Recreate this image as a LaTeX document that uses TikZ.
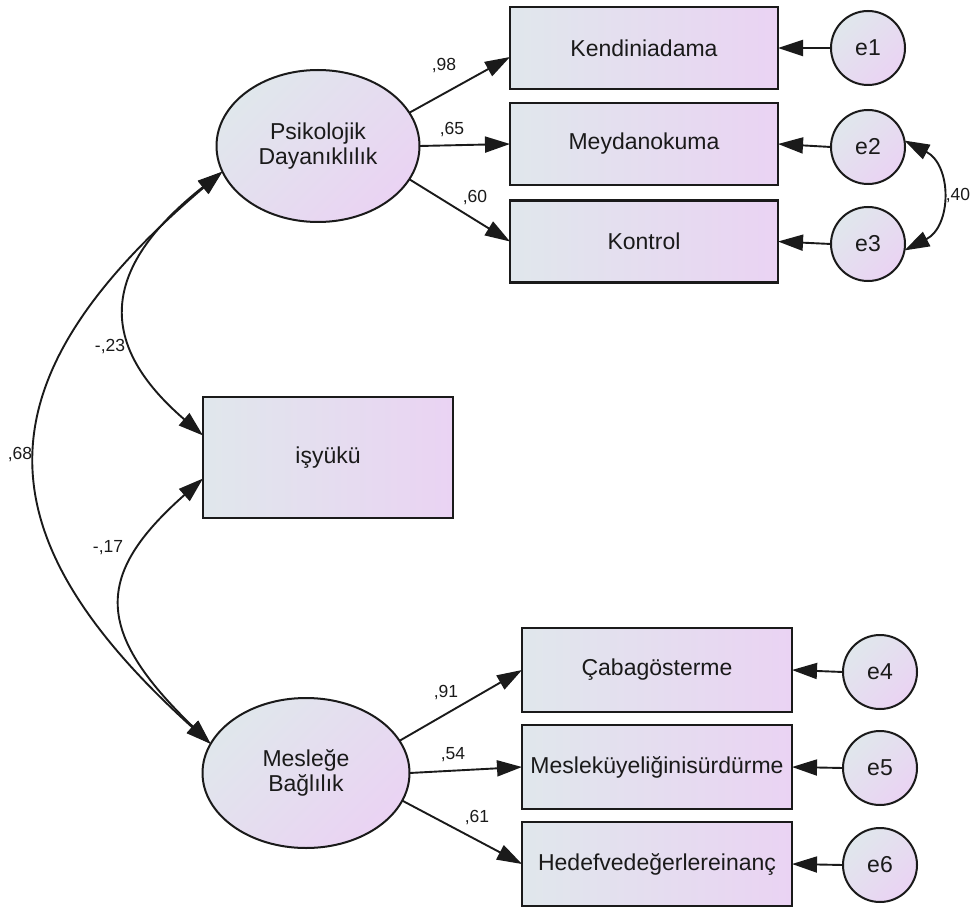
\documentclass[tikz,border=0pt]{standalone}
\usepackage{fontspec}
\setmainfont{Liberation Sans}
\usetikzlibrary{arrows.meta,shapes.geometric}

\definecolor{fillL}{RGB}{224,231,236}
\definecolor{fillR}{RGB}{234,211,243}
\definecolor{ink}{RGB}{26,26,26}

\begin{document}
\begin{tikzpicture}[x=1pt,y=-1pt,
  every node/.style={inner sep=0pt, outer sep=0pt, text=ink},
  obs/.style={draw=ink, line width=2.2pt, rectangle, left color=fillL, right color=fillR,
    minimum width=268pt, minimum height=82pt, font=\fontsize{23}{25}\selectfont},
  lat/.style={draw=ink, line width=2pt, ellipse, top color=fillL, bottom color=fillR,
    shading angle=45, align=center, font=\fontsize{23}{25}\selectfont},
  err/.style={draw=ink, line width=2pt, circle, minimum size=74pt, top color=fillL,
    bottom color=fillR, shading angle=45, font=\fontsize{23}{25}\selectfont},
  conn/.style={draw=ink, line width=1.9pt, -{Triangle[length=25pt,width=16pt]}},
  cov/.style={draw=ink, line width=1.9pt, {Triangle[length=25pt,width=16pt]}-{Triangle[length=25pt,width=16pt]}},
  coef/.style={font=\fontsize{17.5}{20}\selectfont}
]
\useasboundingbox (0,0) rectangle (971,909);

% latent variables
\node[lat, minimum width=203pt, minimum height=152pt] (P) at (318,146) {Psikolojik\\Dayanıklılık};
\node[lat, minimum width=207pt, minimum height=150pt] (M) at (306,773) {Mesleğe\\Bağlılık};

% observed indicators
\node[obs] (K)  at (644,48)    {Kendiniadama};
\node[obs] (Md) at (644,144)   {Meydanokuma};
\node[obs] (Ko) at (644,241.5) {Kontrol};
\node[obs, minimum width=250pt, minimum height=121pt] (I) at (328,457.5) {işyükü};
\node[obs, minimum width=270pt, minimum height=84pt] (C)  at (657,670) {Çabagösterme};
\node[obs, minimum width=270pt, minimum height=84pt] (Ms) at (657,767) {Mesleküyeliğinisürdürme};
\node[obs, minimum width=270pt, minimum height=84pt] (H)  at (657,864) {Hedefvedeğerlereinanç};

% error terms
\node[err] (e1) at (868,48)  {e1};
\node[err] (e2) at (868,147) {e2};
\node[err] (e3) at (868,244) {e3};
\node[err] (e4) at (880,672) {e4};
\node[err] (e5) at (880,768) {e5};
\node[err] (e6) at (880,865) {e6};

% loadings
\draw[conn] (P.20) -- ([yshift=-9pt]K.west);
\draw[conn] (P.east) -- (Md.west);
\draw[conn] (P.-20) -- (Ko.west);
\draw[conn] (M.19) -- (C.west);
\draw[conn] (M.east) -- (Ms.west);
\draw[conn] (M.-16) -- (H.west);

% error paths
\draw[conn] (e1.west) -- (K.east);
\draw[conn] (e2.west) -- (Md.east);
\draw[conn] (e3.west) -- (Ko.east);
\draw[conn] (e4.west) -- (C.east);
\draw[conn] (e5.west) -- (Ms.east);
\draw[conn] (e6.west) -- (H.east);

% covariances
\draw[cov] (P.195) .. controls (-23,380) and (-23,533) .. (M.163);
\draw[cov] (P.195) .. controls (98,270) and (98,345) .. ([yshift=22pt]I.west);
\draw[cov] ([yshift=-21pt]I.west) .. controls (94,575) and (94,631) .. (M.163);
\draw[cov] (e2.10) .. controls (952,165) and (952,226) .. (e3.-10);

% coefficients
\node[coef] (c98) at (444,66)  {,98};
\node[coef] (c65) at (452,130) {,65};
\node[coef] (c60) at (475,198) {,60};
\node[coef] (c91) at (446,693) {,91};
\node[coef] (c54) at (453,755) {,54};
\node[coef] (c61) at (477,818) {,61};
\node[coef] (c23) at (110,347) {-,23};
\node[coef] (c68) at (20,455)  {,68};
\node[coef] (c17) at (108,548) {-,17};
\node[coef] (c40) at (958,196) {,40};
\end{tikzpicture}
\end{document}
